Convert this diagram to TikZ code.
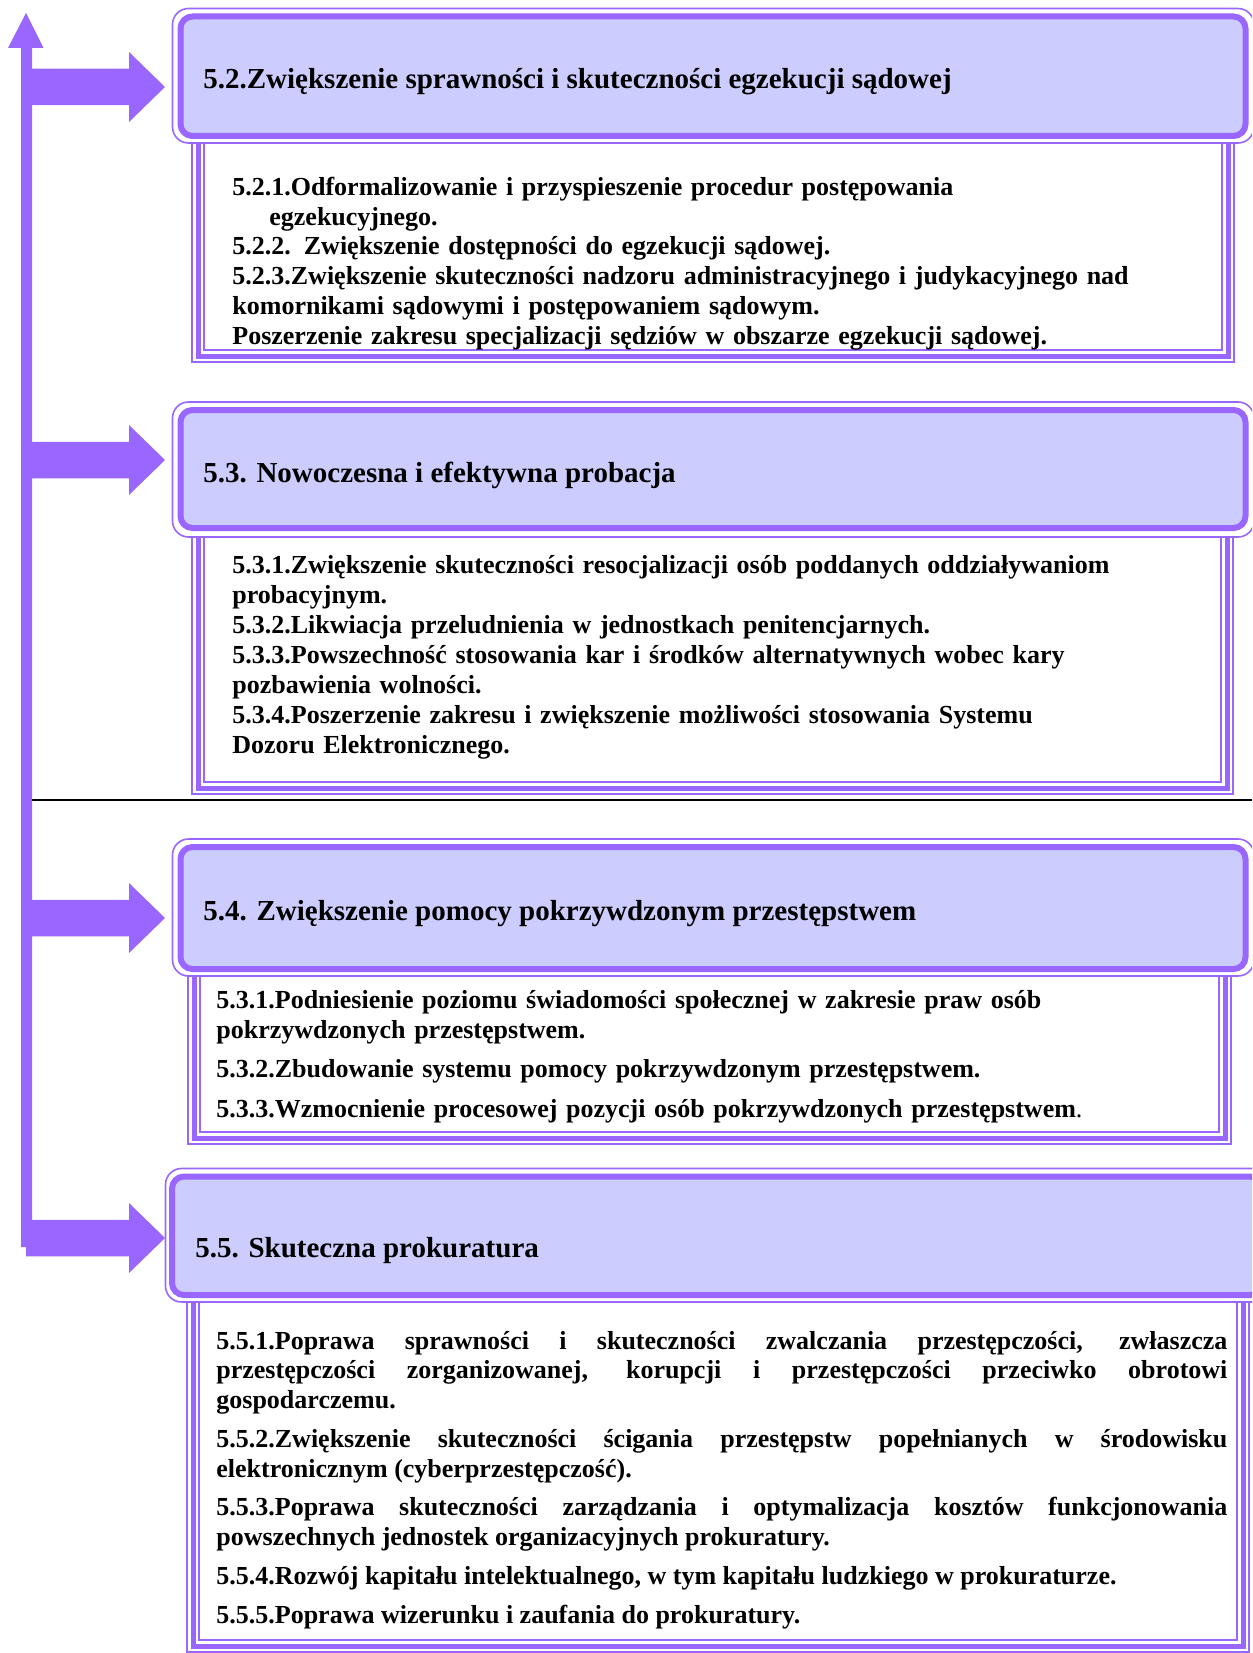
\documentclass[tikz,border=0pt]{standalone}
\usepackage{fontspec}
\setmainfont{Liberation Serif}
\definecolor{lineclr}{HTML}{9966FF}
\definecolor{hdrfill}{HTML}{CCCCFF}
\newcommand\hdrfont{\fontsize{14.5}{17}\selectfont\bfseries}
\newcommand\detfont{\fontsize{13}{14.85}\selectfont\bfseries}
% horizontal block arrow: start x, centre y
\newcommand\harrow[2]{%
  \fill[blockarrow] (#1,{#2-18.25}) -- (129,{#2-18.25}) -- (129,{#2-35}) -- (165,#2)
    -- (129,{#2+35}) -- (129,{#2+18.25}) -- (#1,{#2+18.25}) -- cycle;}
% triple-line frame: outer corner, inner corner
\newcommand\tripleframe[4]{%
  \draw[frameout] (#1,#2) rectangle (#3,#4);
  \draw[framemid] ({#1+6},{#2+6}) rectangle ({#3-6},{#4-6});
  \draw[framein] ({#1+12},{#2+12}) rectangle ({#3-12},{#4-12});}
\begin{document}
\begin{tikzpicture}[x=0.5pt,y=-0.5pt,
  ring/.style={draw=lineclr,line width=0.8pt,fill=white,rounded corners=8pt},
  core/.style={draw=lineclr,line width=3pt,fill=hdrfill,rounded corners=6pt},
  frameout/.style={draw=lineclr,line width=0.8pt,fill=white},
  framemid/.style={draw=lineclr,line width=2.5pt},
  framein/.style={draw=lineclr,line width=0.8pt},
  blockarrow/.style={fill=lineclr},
  hdrtext/.style={anchor=base west,inner sep=0pt,font=\hdrfont},
  dettext/.style={anchor=base west,inner sep=0pt,font=\detfont,text width=#1,align=left}]
\useasboundingbox (0,0) rectangle (1252,1653);
\clip (0,0) rectangle (1252,1653);

% spine with upward arrow head
\fill[blockarrow] (21,1247) -- (21,48) -- (8,48) -- (26,13) -- (43.5,48) -- (32,48) -- (32,1247) -- cycle;
\harrow{31}{87}
\harrow{31}{460}
\harrow{31}{918}
\harrow{26}{1238}

% separator rule
\coordinate (sepL) at (32,800);
\coordinate (sepR) at (1252,800);
\draw[line width=0.65pt] (sepL) -- (sepR);

% detail frames
\tripleframe{192}{100}{1234}{362}
\tripleframe{192}{500}{1233}{794}
\tripleframe{188}{940}{1231}{1144}
\tripleframe{187}{1270}{1249}{1652}

% headers
\draw[ring] (172.5,8.5) rectangle (1254,143);
\draw[core] (180.5,16.5) rectangle (1245.5,136);
\draw[ring] (172.5,402) rectangle (1254,537);
\draw[core] (180.5,410) rectangle (1245.5,528);
\draw[ring] (172.5,839) rectangle (1254,976);
\draw[core] (180.5,847) rectangle (1245.5,969);
\draw[ring] (165.5,1168.5) rectangle (1270,1302);
\draw[core] (172,1176.5) rectangle (1262,1295);

\node[hdrtext] (h52) at (203,89) {5.2.Zwiększenie sprawności i skuteczności egzekucji sądowej};
\node[hdrtext] (h53) at (203,482) {5.3. Nowoczesna i efektywna probacja};
\node[hdrtext] (h54) at (203,920) {5.4. Zwiększenie pomocy pokrzywdzonym przestępstwem};
\node[hdrtext] (h55) at (195,1257) {5.5. Skuteczna prokuratura};

% detail texts
\node[dettext=490pt] (d52) at (232,195.5) {5.2.1.Odformalizowanie i przyspieszenie procedur postępowania\\
\hspace*{18.5pt}egzekucyjnego.\\
5.2.2. Zwiększenie dostępności do egzekucji sądowej.\\
5.2.3.Zwiększenie skuteczności nadzoru administracyjnego i judykacyjnego nad\\
komornikami sądowymi i postępowaniem sądowym.\\
Poszerzenie zakresu specjalizacji sędziów w obszarze egzekucji sądowej.};

\node[dettext=490pt,font={\fontsize{13}{15}\selectfont\bfseries}] (d53) at (232,573.5) {5.3.1.Zwiększenie skuteczności resocjalizacji osób poddanych oddziaływaniom\\
probacyjnym.\\
5.3.2.Likwiacja przeludnienia w jednostkach penitencjarnych.\\
5.3.3.Powszechność stosowania kar i środków alternatywnych wobec kary\\
pozbawienia wolności.\\
5.3.4.Poszerzenie zakresu i zwiększenie możliwości stosowania Systemu\\
Dozoru Elektronicznego.};

\node[dettext=500pt,font={\fontsize{13}{15.25}\selectfont\bfseries}] (d54) at (216,1008) {5.3.1.Podniesienie poziomu świadomości społecznej w zakresie praw osób\\
pokrzywdzonych przestępstwem.\\[4.25pt]
5.3.2.Zbudowanie systemu pomocy pokrzywdzonym przestępstwem.\\[4.75pt]
5.3.3.Wzmocnienie procesowej pozycji osób pokrzywdzonych przestępstwem{\mdseries .}};

\node[anchor=base west,inner sep=0pt,font=\detfont,text width=505.5pt,align=justify] (d55) at (216,1349)
{\tolerance=9999 \parskip=4.6pt
5.5.1.Poprawa sprawności i skuteczności zwalczania przestępczości, zwłaszcza\linebreak
przestępczości zorganizowanej, korupcji i przestępczości przeciwko obrotowi\linebreak
gospodarczemu.\par
5.5.2.Zwiększenie skuteczności ścigania przestępstw popełnianych w środowisku\linebreak
elektronicznym (cyberprzestępczość).\par
5.5.3.Poprawa skuteczności zarządzania i optymalizacja kosztów funkcjonowania\linebreak
powszechnych jednostek organizacyjnych prokuratury.\par
5.5.4.Rozwój kapitału intelektualnego, w tym kapitału ludzkiego w prokuraturze.\par
5.5.5.Poprawa wizerunku i zaufania do prokuratury.\par};
\end{tikzpicture}
\end{document}
